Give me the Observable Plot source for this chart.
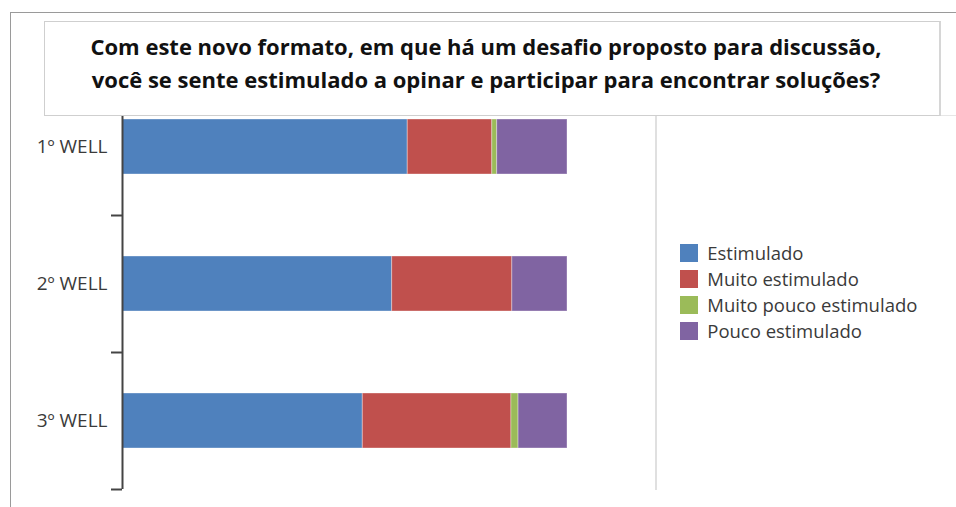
<!DOCTYPE html>
<html>
<head>
<meta charset="utf-8">
<script src="https://cdn.jsdelivr.net/npm/d3@7"></script>
<script src="https://cdn.jsdelivr.net/npm/@observablehq/plot@0.6"></script>
<style>
  html, body { margin: 0; padding: 0; background: #fff; }
  #wrap { position: relative; width: 956px; height: 507px; overflow: hidden; font-family: "Open Sans", sans-serif; }
  #frame { position: absolute; left: 10px; top: 12px; width: 960px; height: 520px; border-top: 1px solid #9a9a9a; border-left: 1px solid #9a9a9a; }
  #plot { position: absolute; left: 0; top: 0; }
  #title { position: absolute; left: 44px; top: 21px; width: 894px; height: 93px; background: #fff;
           border: 1px solid #cfcfcf; border-right: 2px solid #d6d6d6; box-sizing: content-box;
           text-align: center; font-weight: bold; font-size: 22px; line-height: 33px; color: #111;
           padding: 0; white-space: nowrap; }
  #title .inner { padding-top: 8px; padding-right: 12px; }
  #legendbox { position: absolute; left: 655px; top: 115px; width: 300px; height: 374px; border-left: 2px solid #e0e0e0; border-top: 1px solid #e6e6e6; background: transparent; }
  #legend { position: absolute; left: 680px; top: 240px; }
  .lg-swatches-columns .lg-swatch { padding-bottom: 1px; line-height: 25px; }
</style>
</head>
<body>
<div id="wrap">
  <div id="frame"></div>
  <div id="plot"></div>
  <div id="legendbox"></div>
  <div id="legend"></div>
  <div id="title"><div class="inner"></div></div>
</div>
<script>
const titleLines = [
  "Com este novo formato, em que há um desafio proposto para discussão,",
  "você se sente estimulado a opinar e participar para encontrar soluções?"
];
const wells = ["1º WELL", "2º WELL", "3º WELL"];
const categories = ["Estimulado", "Muito estimulado", "Muito pouco estimulado", "Pouco estimulado"];
const estimulado = [64.1, 60.6, 54.0];
const muitoEstimulado = [19.0, 27.0, 33.4];
const muitoPoucoEstimulado = [1.1, 0, 1.6];
const poucoEstimulado = [15.8, 12.4, 11.0];
const colors = ["#4F81BD", "#C0504D", "#9BBB59", "#8064A2"];

const series = [estimulado, muitoEstimulado, muitoPoucoEstimulado, poucoEstimulado];
const data = [];
wells.forEach((w, i) => categories.forEach((c, j) => data.push({well: w, category: c, value: series[j][i]})));

const W = 956, H = 507, mT = 78, mB = 18, mL = 122, mR = 389;
const halfStep = (H - mT - mB) / wells.length / 2;

const chart = Plot.plot({
  width: W, height: H,
  marginLeft: mL, marginRight: mR, marginTop: mT, marginBottom: mB,
  style: {fontFamily: "'Open Sans', sans-serif", background: "transparent"},
  x: {domain: [0, 100], axis: null, label: null},
  y: {domain: wells, paddingInner: 0.6, paddingOuter: 0.3, axis: null, label: null},
  color: {domain: categories, range: colors},
  marks: [
    Plot.barX(data, {y: "well", x: "value", fill: "category", order: categories,
                     stroke: "#ffffff", strokeOpacity: 0.35, strokeWidth: 1}),
    Plot.ruleX([0], {stroke: "#444", strokeWidth: 2}),
    Plot.axisY({anchor: "left", tickSize: 0, tickPadding: 15, fontSize: 19, fill: "#3a3a3a", label: null}),
    Plot.axisY({anchor: "left", tickSize: 11, text: null, label: null, dy: halfStep, stroke: "#444", strokeWidth: 2})
  ]
});
document.getElementById("plot").appendChild(chart);

document.querySelector("#title .inner").innerHTML = titleLines.join("<br>");

const legend = Plot.legend({
  legend: "swatches",
  color: {domain: categories, range: colors},
  columns: 1,
  swatchWidth: 18, swatchHeight: 18,
  className: "lg",
  style: {fontFamily: "'Open Sans', sans-serif", fontSize: "18.5px", color: "#3a3a3a", margin: "0"}
});
document.getElementById("legend").appendChild(legend);
</script>
</body>
</html>
